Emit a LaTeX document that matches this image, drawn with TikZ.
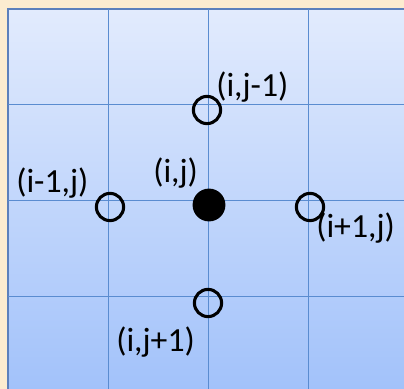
\documentclass[tikz,border=0pt]{standalone}
\usepackage{fontspec}
\setmainfont{Carlito}
\usetikzlibrary{positioning}
\definecolor{paper}{RGB}{252,236,208}
\definecolor{skytop}{RGB}{226,235,253}
\definecolor{skybot}{RGB}{162,194,250}
\definecolor{gridline}{RGB}{90,140,208}
\definecolor{rimline}{RGB}{92,128,188}
\begin{document}
\begin{tikzpicture}[x=0.025cm, y=-0.025cm,
  hole/.style={circle, draw=black, line width=2.2pt, fill=none,
               minimum size=0.68cm, inner sep=0pt},
  solid/.style={circle, fill=black, minimum size=0.82cm, inner sep=0pt},
  lbl/.style={font=\fontsize{24}{28}\selectfont, inner sep=0pt}
]
\useasboundingbox (0,0) rectangle (404,389);
% background
\fill[paper] (0,0) rectangle (404,389);
\shade[top color=skytop, bottom color=skybot] (8,9) rectangle (404,389);
\draw[rimline, line width=1.4pt] (8,389) -- (8,9) -- (404,9);
% grid
\foreach \x in {108,208,308}
  \draw[gridline, line width=0.7pt] (\x,9) -- (\x,389);
\foreach \y in {104,200,296}
  \draw[gridline, line width=0.7pt] (8,\y) -- (404,\y);

% stencil points
\node[hole]  (up)    at (207,110) {};
\node[hole]  (left)  at (110,207) {};
\node[solid] (mid)   at (209,205) {};
\node[hole]  (right) at (310,207) {};
\node[hole]  (down)  at (208,303) {};

% labels
\node[lbl, anchor=west] (uplbl)    at (216,87)  {(i,j-1)};
\node[lbl, anchor=west] (leftlbl)  at (16,183)  {(i-1,j)};
\node[lbl, anchor=west] (midlbl)   at (153,173) {(i,j)};
\node[lbl, anchor=west] (rightlbl) at (316,228) {(i+1,j)};
\node[lbl, anchor=west] (downlbl)  at (116,342) {(i,j+1)};
\end{tikzpicture}
\end{document}
